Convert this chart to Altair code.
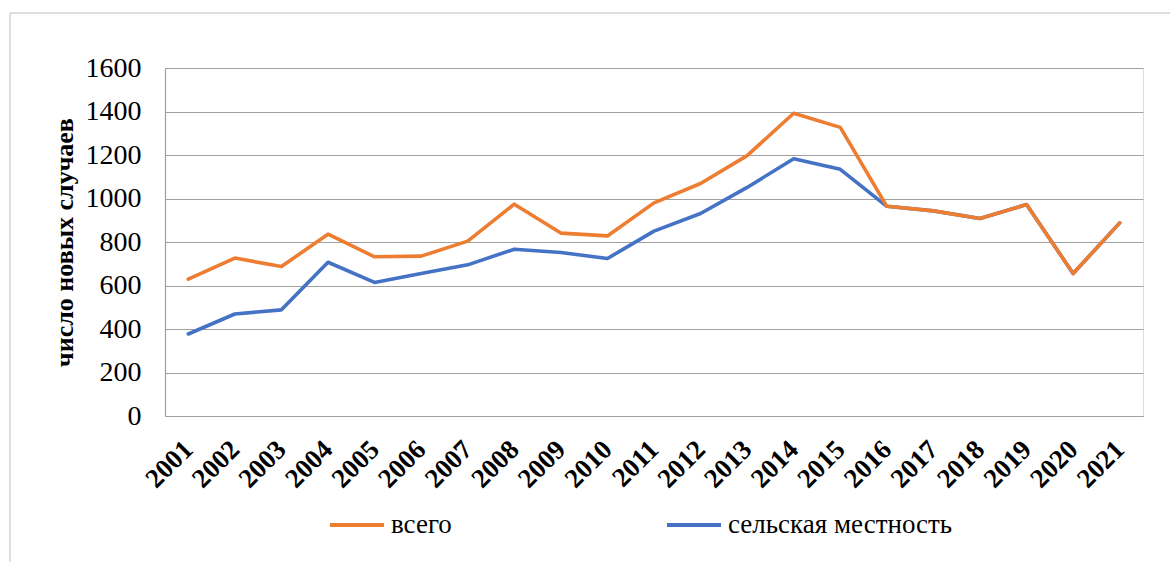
import altair as alt
import pandas as pd

# Years and yearly counts of new cases
years = [str(y) for y in range(2001, 2022)]
total_cases = [629, 726, 687, 836, 732, 735, 804, 974, 841, 828, 980,
               1069, 1197, 1392, 1327, 964, 943, 908, 972, 655, 888]
rural_cases = [377, 469, 488, 707, 614, 655, 695, 767, 752, 724, 850,
               931, 1051, 1183, 1134, 964, 943, 908, 972, 655, 888]

series_names = ["всего", "сельская местность"]
series_colors = ["#ED7D31", "#4472C4"]
y_ticks = [0, 200, 400, 600, 800, 1000, 1200, 1400, 1600]

FONT = "Liberation Serif"
GRID = "#a0a0a0"

df = pd.concat([
    pd.DataFrame({"year": years, "cases": total_cases, "series": series_names[0]}),
    pd.DataFrame({"year": years, "cases": rural_cases, "series": series_names[1]}),
])

x_enc = alt.X(
    "year:O",
    scale=alt.Scale(type="point", padding=0.5),
    axis=alt.Axis(
        title=None, labelAngle=-45, labelAlign="right", labelBaseline="middle",
        labelFont=FONT, labelFontSize=27, labelFontWeight="bold", labelColor="black",
        labelPadding=29, ticks=False, grid=False, domainColor=GRID, domainWidth=1.2,
        labelOverlap=False,
    ),
)
y_enc = alt.Y(
    "cases:Q",
    scale=alt.Scale(domain=[0, 1600], nice=False),
    axis=alt.Axis(
        title="число новых случаев", titleFont=FONT, titleFontSize=26,
        titleFontWeight="bold", titleColor="black", titleX=-101, titleY=174,
        titleAngle=-90, titleAlign="center", titleBaseline="middle",
        values=y_ticks, format="d", labelFont=FONT, labelFontSize=28, labelColor="black",
        labelPadding=24, ticks=False, grid=True, gridColor=GRID, gridWidth=1.2,
        domainColor=GRID, domainWidth=1.2,
    ),
)
color_enc = alt.Color(
    "series:N",
    scale=alt.Scale(domain=series_names, range=series_colors),
    legend=alt.Legend(
        title=None, orient="none", direction="horizontal", legendX=163, legendY=428,
        symbolType="stroke", symbolSize=2916, symbolStrokeWidth=4,
        labelFont=FONT, labelFontSize=27, labelColor="black", labelOffset=5,
        labelLimit=400, columnPadding=207, padding=0,
    ),
)

base = alt.Chart(df).mark_line(strokeWidth=3.6, strokeCap="round", strokeJoin="round")

rural_line = base.encode(x=x_enc, y=y_enc, color=color_enc).transform_filter(
    alt.datum.series == series_names[1])
total_line = base.encode(x=x_enc, y=y_enc, color=color_enc).transform_filter(
    alt.datum.series == series_names[0])

# light frame around the whole figure
frame = alt.Chart(pd.DataFrame({"k": [0]})).mark_rect(
    filled=False, stroke="#bfbfbf", strokeWidth=1
).encode(x=alt.value(-155), x2=alt.value(1100), y=alt.value(-55), y2=alt.value(600))

chart = alt.layer(frame, rural_line, total_line).properties(
    width=978, height=348,
    autosize=alt.AutoSizeParams(type="none"),
    padding={"left": 165, "top": 68, "right": 27, "bottom": 146},
).configure_view(stroke=None).configure(background="white")

chart.save("out.html", embed_options={"renderer": "svg", "actions": False})
